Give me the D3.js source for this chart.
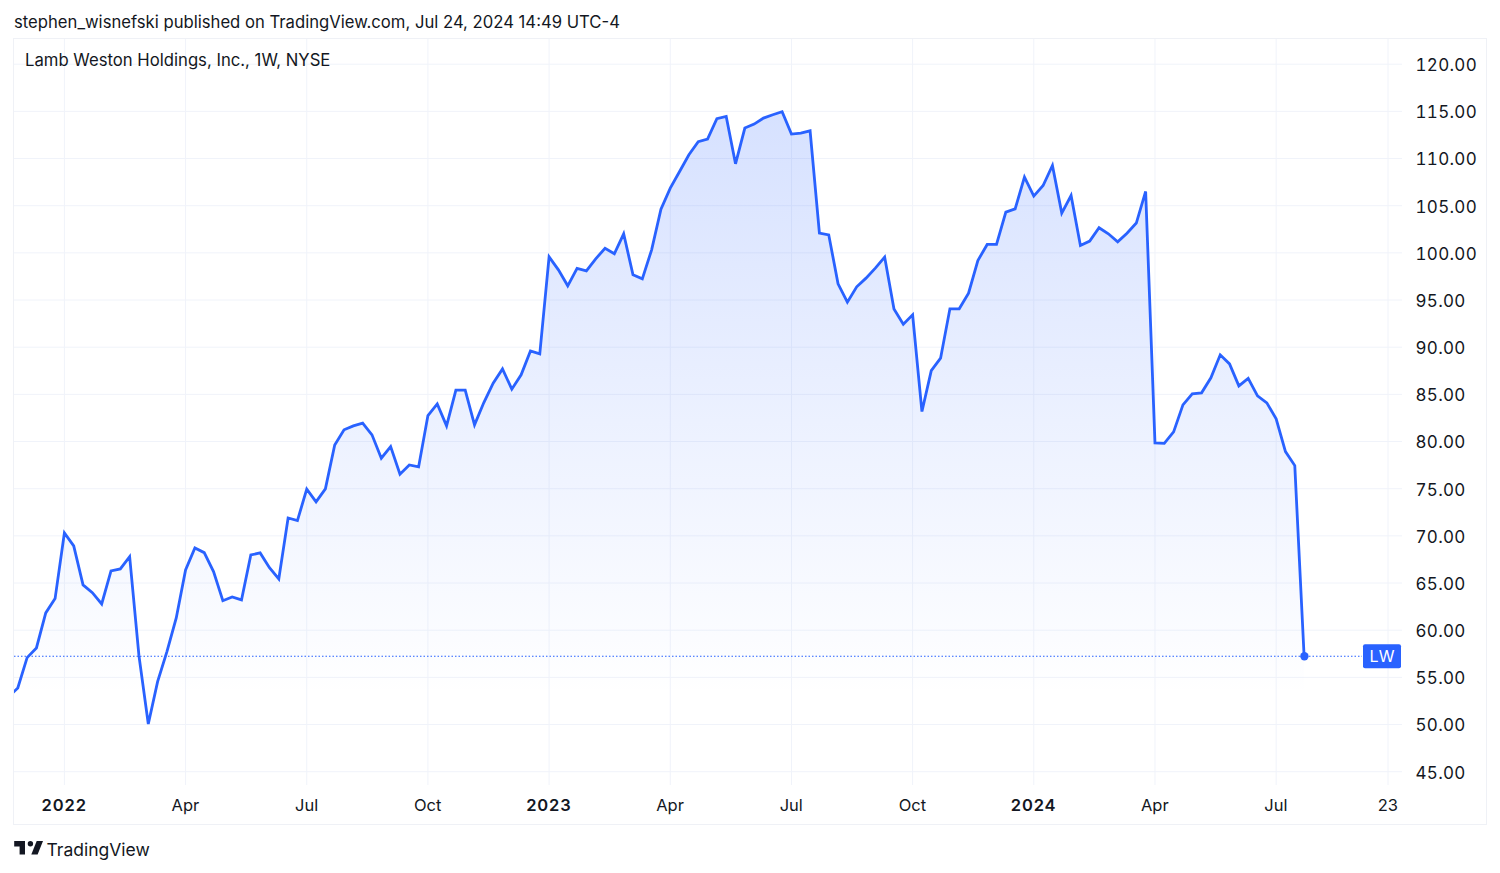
<!DOCTYPE html>
<html lang="en">
<head>
    <meta charset="utf-8">
    <title>Lamb Weston Holdings, Inc., 1W, NYSE</title>
    <script src="https://cdn.jsdelivr.net/npm/d3@7/dist/d3.min.js"></script>
    <style>
        html, body { margin: 0; padding: 0; background: #fff; }
        svg { display: block; }
        text { font-family: Inter, "Noto Sans", sans-serif; fill: #131722; }
    </style>
</head>
<body>
<script>
    // Weekly closes, first bar is the week of 2021-11-22
    var firstWeek = "2021-11-22";
    var closes = [
        52.92, 53.88, 57.09, 58.12, 61.83, 63.35,
        70.31, 68.93, 64.80, 63.98, 62.78, 66.28, 66.50, 67.80, 57.27, 50.06, 54.54, 57.73, 61.30,
        66.39, 68.72, 68.22, 66.21, 63.13, 63.53, 63.21, 67.98, 68.19, 66.63, 65.43, 71.90, 71.62,
        74.95, 73.60, 74.98, 79.64, 81.24, 81.66, 81.95, 80.71, 78.23, 79.46, 76.54, 77.52, 77.31,
        82.75, 83.99, 81.66, 85.45, 85.45, 81.77, 84.13, 86.19, 87.70, 85.55, 87.07, 89.61, 89.29,
        99.58, 98.20, 96.51, 98.36, 98.10, 99.37, 100.48, 99.90, 102.02, 97.67, 97.25, 100.32, 104.64,
        106.87, 108.63, 110.40, 111.78, 112.06, 114.22, 114.46, 109.44, 113.23, 113.65, 114.29, 114.64, 114.96,
        112.59, 112.70, 112.94, 102.09, 101.91, 96.72, 94.78, 96.40, 97.32, 98.38, 99.55, 94.04, 92.44,
        93.43, 83.18, 87.52, 88.84, 94.07, 94.07, 95.73, 99.19, 100.89, 100.89, 104.32, 104.67, 108.03,
        106.02, 107.14, 109.26, 104.22, 106.08, 100.78, 101.25, 102.66, 102.02, 101.17, 102.09, 103.16, 106.51,
        79.86, 79.80, 81.02, 83.89, 85.05, 85.16, 86.75, 89.19, 88.23, 85.90, 86.70, 84.84, 84.10,
        82.40, 78.93, 77.45, 57.24
    ];
    var priceTicks = [45, 50, 55, 60, 65, 70, 75, 80, 85, 90, 95, 100, 105, 110, 115, 120];
    var timeTicks = ["2022-01-03", "2022-04-04", "2022-07-04", "2022-10-03", "2023-01-02", "2023-04-03",
        "2023-07-03", "2023-10-02", "2024-01-01", "2024-04-01", "2024-07-01", "2024-09-23"];
    var timeLabels = ["2022", "Apr", "Jul", "Oct", "2023", "Apr", "Jul", "Oct", "2024", "Apr", "Jul", "23"];
    var symbol = "LW";
    var publishedLine = "stephen_wisnefski published on TradingView.com, Jul 24, 2024 14:49 UTC-4";
    var chartTitle = "Lamb Weston Holdings, Inc., 1W, NYSE";

    var width = 1500;
    var height = 873;
    var lineColor = "#2962ff";
    var gridColor = "#f0f3fa";

    var frame = { left: 13.5, top: 38.5, right: 1486.5, bottom: 824.5 };
    var pane = { left: 14, top: 39, right: 1402, bottom: 785 };

    var parseDay = d3.utcParse( "%Y-%m-%d" );
    var weeks = closes.map( function( c, i ) {
        return d3.utcMonday.offset( parseDay( firstWeek ), i );
    } );
    var rows = closes.map( function( c, i ) {
        return { date: weeks[i], close: c };
    } );
    var last = rows[rows.length - 1];

    var x = d3.scaleUtc()
        .domain( [parseDay( timeTicks[0] ), parseDay( timeTicks[timeTicks.length - 1] )] )
        .range( [64.4, 1388] );
    var y = d3.scaleLinear()
        .domain( [45, 120] )
        .range( [771.7, 64.2] );

    var svg = d3.select( "body" )
        .append( "svg" )
        .attr( "width", width )
        .attr( "height", height );

    var defs = svg.append( "defs" );
    defs.append( "clipPath" )
        .attr( "id", "paneClip" )
        .append( "rect" )
        .attr( "x", pane.left )
        .attr( "y", pane.top )
        .attr( "width", pane.right - pane.left )
        .attr( "height", pane.bottom - pane.top );

    var fade = defs.append( "linearGradient" )
        .attr( "id", "areaFade" )
        .attr( "gradientUnits", "userSpaceOnUse" )
        .attr( "x1", 0 ).attr( "x2", 0 )
        .attr( "y1", y( 115 ) ).attr( "y2", 695 );
    fade.append( "stop" ).attr( "offset", "0" ).attr( "stop-color", lineColor ).attr( "stop-opacity", 0.19 );
    fade.append( "stop" ).attr( "offset", "1" ).attr( "stop-color", lineColor ).attr( "stop-opacity", 0 );

    // Frame around chart and price scale
    svg.append( "rect" )
        .attr( "x", frame.left )
        .attr( "y", frame.top )
        .attr( "width", frame.right - frame.left )
        .attr( "height", frame.bottom - frame.top )
        .attr( "fill", "none" )
        .attr( "stroke", "#eff1f6" );

    // Grid
    var grid = svg.append( "g" );
    grid.selectAll( ".hgrid" )
        .data( priceTicks )
        .enter()
        .append( "line" )
        .attr( "x1", pane.left )
        .attr( "x2", pane.right )
        .attr( "y1", function( d ) { return y( d ); } )
        .attr( "y2", function( d ) { return y( d ); } )
        .attr( "stroke", gridColor );
    grid.selectAll( ".vgrid" )
        .data( timeTicks )
        .enter()
        .append( "line" )
        .attr( "x1", function( d ) { return x( parseDay( d ) ); } )
        .attr( "x2", function( d ) { return x( parseDay( d ) ); } )
        .attr( "y1", pane.top )
        .attr( "y2", pane.bottom )
        .attr( "stroke", gridColor );

    // Area and line
    var plot = svg.append( "g" ).attr( "clip-path", "url(#paneClip)" );
    plot.append( "path" )
        .datum( rows )
        .attr( "fill", "url(#areaFade)" )
        .attr( "d", d3.area()
            .x( function( d ) { return x( d.date ); } )
            .y0( pane.bottom )
            .y1( function( d ) { return y( d.close ); } ) );

    plot.append( "line" )
        .attr( "x1", pane.left )
        .attr( "x2", 1362 )
        .attr( "y1", y( last.close ) )
        .attr( "y2", y( last.close ) )
        .attr( "stroke", lineColor )
        .attr( "stroke-width", 1.2 )
        .attr( "stroke-dasharray", "1.5 2" );

    plot.append( "path" )
        .datum( rows )
        .attr( "fill", "none" )
        .attr( "stroke", lineColor )
        .attr( "stroke-width", 2.8 )
        .attr( "stroke-linejoin", "miter" )
        .attr( "d", d3.line()
            .x( function( d ) { return x( d.date ); } )
            .y( function( d ) { return y( d.close ); } ) );

    plot.append( "circle" )
        .attr( "cx", x( last.date ) + 0.3 )
        .attr( "cy", y( last.close ) )
        .attr( "r", 4.2 )
        .attr( "fill", lineColor );

    // Symbol tag
    svg.append( "rect" )
        .attr( "x", 1363 )
        .attr( "y", y( last.close ) - 12 )
        .attr( "width", 38 )
        .attr( "height", 24 )
        .attr( "rx", 2 )
        .attr( "fill", lineColor );
    svg.append( "text" )
        .attr( "x", 1382 )
        .attr( "y", y( last.close ) )
        .attr( "dy", "0.36em" )
        .attr( "text-anchor", "middle" )
        .attr( "font-size", 16 )
        .style( "fill", "#fff" )
        .text( symbol );

    // Price axis
    var priceAxis = svg.append( "g" )
        .attr( "transform", "translate(1415.5,1)" )
        .call( d3.axisRight( y ).tickValues( priceTicks ).tickSize( 0 ).tickPadding( 0 ).tickFormat( d3.format( ".2f" ) ) );
    priceAxis.select( ".domain" ).remove();
    priceAxis.selectAll( "text" )
        .attr( "font-size", 17 )
        .style( "font-family", "Inter" )
        .style( "font-variant-numeric", "tabular-nums" )
        .style( "letter-spacing", "0.3px" );

    // Time axis
    var timeAxis = svg.append( "g" )
        .attr( "transform", "translate(0,799.5)" )
        .call( d3.axisBottom( x )
            .tickValues( timeTicks.map( parseDay ) )
            .tickSize( 0 )
            .tickPadding( 0 )
            .tickFormat( function( d, i ) { return timeLabels[i]; } ) );
    timeAxis.select( ".domain" ).remove();
    timeAxis.selectAll( "text" )
        .attr( "font-size", 16.5 )
        .attr( "dx", -0.7 )
        .style( "font-family", "Inter" )
        .style( "font-weight", function( d, i ) { return /^\d{4}$/.test( timeLabels[i] ) ? 600 : 400; } )
        .style( "letter-spacing", function( d, i ) { return /^\d{4}$/.test( timeLabels[i] ) ? "0.9px" : "0"; } );

    // Header text
    svg.append( "text" )
        .attr( "x", 14 )
        .attr( "y", 28 )
        .attr( "font-size", 16.66 )
        .text( publishedLine );
    svg.append( "text" )
        .attr( "x", 25 )
        .attr( "y", 65.5 )
        .attr( "font-size", 16.7 )
        .text( chartTitle );

    // TradingView mark and name
    var logo = svg.append( "g" )
        .attr( "transform", "translate(12.4,835.6) scale(0.9)" )
        .attr( "fill", "#131722" );
    logo.append( "path" ).attr( "d", "M14 6H2v6h6v9h6V6z" );
    logo.append( "path" ).attr( "d", "M28 21h-7l6-15h7l-6 15z" );
    logo.append( "circle" ).attr( "cx", 20 ).attr( "cy", 9 ).attr( "r", 3 );
    svg.append( "text" )
        .attr( "x", 46.5 )
        .attr( "y", 855.5 )
        .attr( "font-size", 17.5 )
        .text( "TradingView" );
</script>
</body>
</html>
